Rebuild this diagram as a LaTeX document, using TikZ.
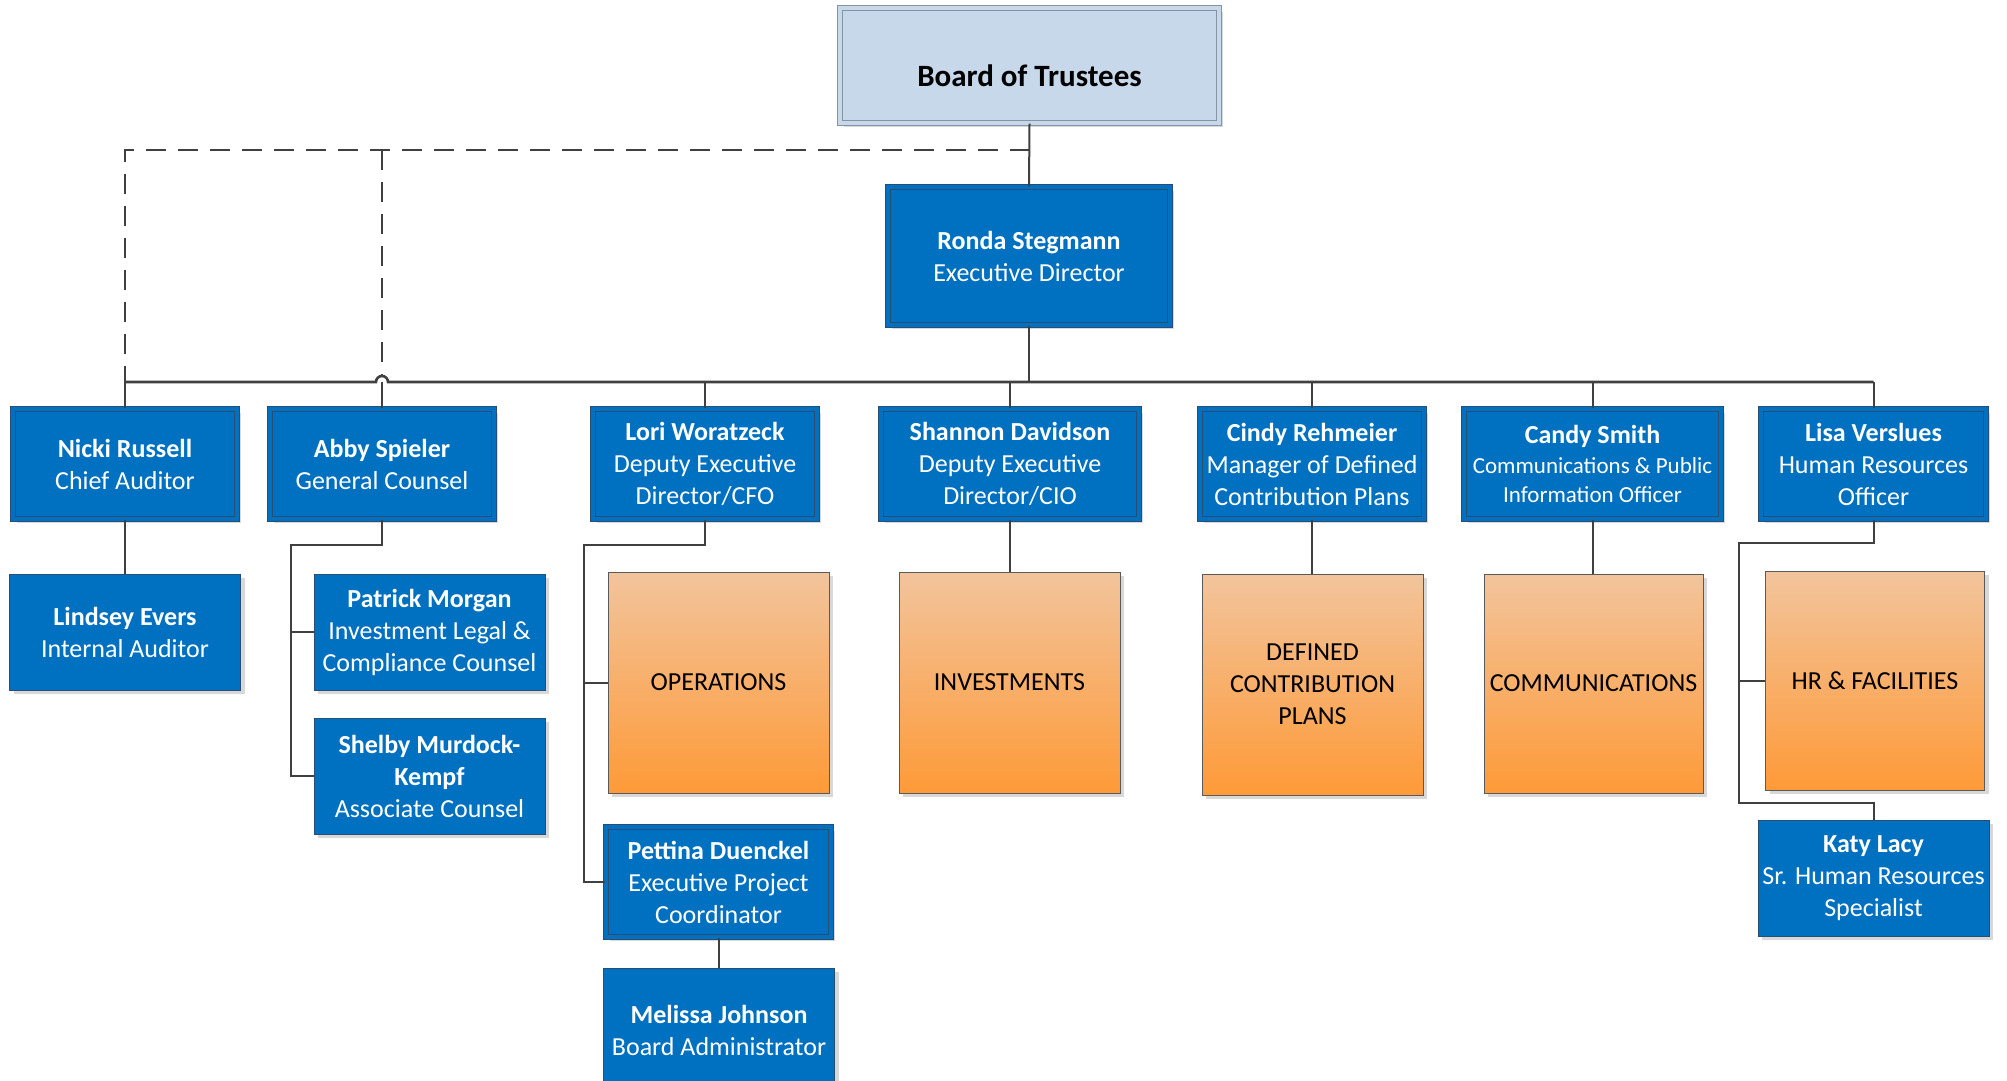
\documentclass[tikz,border=0pt]{standalone}
\usepackage{fontspec}
\setmainfont{Carlito}
\usepackage{tikz}
\usetikzlibrary{shadows,calc}
\definecolor{memberblue}{HTML}{0070C0}
\definecolor{memberline}{HTML}{2A4D74}
\definecolor{boardfill}{HTML}{C6D8EA}
\definecolor{boardline}{HTML}{8693A3}
\definecolor{depttop}{HTML}{F2C49C}
\definecolor{deptbottom}{HTML}{FE9A38}
\definecolor{deptline}{HTML}{5A5A5A}
\definecolor{linkgray}{HTML}{404040}
\tikzstyle{member}=[rectangle,draw=memberline,fill=memberblue,text=white,align=center,inner sep=0pt,
    minimum height=58pt,font=\fontsize{13}{16}\selectfont,
    drop shadow={shadow xshift=2pt,shadow yshift=-2pt,fill=black!30}]
\tikzstyle{lead member} = [member, line width=0.5pt, double=memberblue, double distance=1.8pt, minimum height=55.2pt]
\tikzstyle{board} = [lead member, draw=boardline, fill=boardfill, double=boardfill, text=black,
    font=\fontsize{15.5}{19}\bfseries, text height=21pt, text depth=0pt]
\tikzstyle{dept} = [rectangle,draw=deptline,top color=depttop,bottom color=deptbottom,text=black,align=center,
    inner sep=0pt,font=\fontsize{13}{16}\selectfont,
    drop shadow={shadow xshift=2pt,shadow yshift=-2pt,fill=black!30}]
\tikzstyle{connector} = [draw=linkgray,line width=1pt]
\tikzstyle{dashed connector} = [connector, dash pattern=on 10pt off 6pt]
\begin{document}
\begin{tikzpicture}[x=0.5pt,y=-0.5pt]
    \useasboundingbox (0,0) rectangle (2007,1081);
    % Board and the executive director
    \node[board, minimum width=189.7pt, minimum height=57.7pt] (board) at (1029.5,65.5) {Board of Trustees};
    \node[lead member, minimum width=141.2pt, minimum height=69.2pt] (ronda) at (1029,256)
        {\textbf{Ronda Stegmann}\\Executive Director};

    % First we draw the heads
    \foreach \pos/\name/\w/\txt in {{(125,464)/nicki/112.2pt/{\textbf{Nicki Russell}\\Chief Auditor}},
        {(382,464)/abby/112.2pt/{\textbf{Abby Spieler}\\General Counsel}},
        {(705,464)/lori/112.2pt/{\textbf{Lori Woratzeck}\\Deputy Executive\\Director/CFO}},
        {(1010,464)/shannon/129.2pt/{\textbf{Shannon Davidson}\\Deputy Executive\\Director/CIO}},
        {(1312,464)/cindy/112.2pt/{\textbf{Cindy Rehmeier}\\Manager of Defined\\Contribution Plans}},
        {(1873.5,464)/lisa/112.7pt/{\textbf{Lisa Verslues}\\Human Resources\\Officer}},
        {(718.5,882)/pettina/112.7pt/{\textbf{Pettina Duenckel}\\Executive Project\\Coordinator}}}
        \node[lead member, minimum width=\w] (\name) at \pos {\txt};
    \node[lead member, minimum width=128.7pt, font=\fontsize{11.5}{14.6}\selectfont] (candy) at (1592.5,464)
        {\fontsize{13}{16}\selectfont\textbf{Candy Smith}\\Communications \& Public\\Information Officer};

    % Then the staff
    \foreach \pos/\name/\h/\txt in {{(125,632)/lindsey/58pt/{\textbf{Lindsey Evers}\\Internal Auditor}},
        {(429.5,632)/patrick/58pt/{\textbf{Patrick Morgan}\\Investment Legal \&\\Compliance Counsel}},
        {(429.5,776)/shelby/58pt/{\textbf{Shelby Murdock-}\\\textbf{Kempf}\\Associate Counsel}},
        {(719,1030)/melissa/62pt/{\textbf{Melissa Johnson}\\Board Administrator}},
        {(1873.5,878)/katy/58pt/{\textbf{Katy Lacy}\\Sr. Human Resources\\Specialist}}}
        \node[member, minimum width=115.5pt, minimum height=\h] (\name) at \pos {\txt};

    % The departments
    \foreach \pos/\name/\s/\txt in {{(718.5,682.5)/operations/110.5pt/OPERATIONS},
        {(1009.5,682.5)/investments/110.5pt/INVESTMENTS},
        {(1312.5,684.5)/contribution/110.5pt/{DEFINED\\CONTRIBUTION\\PLANS}},
        {(1593.5,683.5)/communications/109.5pt/COMMUNICATIONS},
        {(1875,680.5)/hr/109.5pt/{HR \& FACILITIES}}}
        \node[dept, minimum width=\s, minimum height=\s] (\name) at \pos {\txt};

    % Connect the director with the heads
    \coordinate (bus) at (0,382);
    \coordinate (dashrow) at (0,150);
    \path[connector] (board.south) -- (ronda.north);
    \path[connector, line width=1.4pt] (ronda.south) -- (ronda.south |- bus);
    \path[connector, line width=1.3pt] (nicki.north |- bus) -- ($(abby.north |- bus)+(-6,0)$)
        arc[start angle=180, end angle=0, radius=3pt] -- (lisa.north |- bus);
    \foreach \name in {nicki,abby,lori,shannon,cindy,candy,lisa}
        \path[connector] (\name.north |- bus) -- (\name.north);

    % Dashed lines from the board
    \path[dashed connector] (board.south |- dashrow) -| (nicki.north |- bus);
    \path[dashed connector] (abby.north |- dashrow) -- ($(abby.north |- bus)+(0,-6)$);

    % Connect the heads with their staff
    \path[connector] (nicki.south) -- (lindsey.north);
    \coordinate (abbyspine) at (291,545);
    \path[connector] (abby.south) |- (abbyspine) |- (shelby.west);
    \path[connector] (abbyspine |- patrick.west) -- (patrick.west);
    \coordinate (lorispine) at (584,545);
    \path[connector] (lori.south) |- (lorispine) |- (pettina.west);
    \path[connector] (lorispine |- operations.west) -- (operations.west);
    \path[connector] (pettina.south) -- (pettina.south |- melissa.north);
    \foreach \source/\dest in {shannon/investments,cindy/contribution,candy/communications}
        \path[connector] (\source.south) -- (\source.south |- \dest.north);
    \coordinate (lisaspine) at (1739,543);
    \coordinate (lisaloop) at (1739,803);
    \path[connector] (lisa.south) |- (lisaspine) -- (lisaloop) -| (katy.north);
    \path[connector] (lisaspine |- hr.west) -- (hr.west);
\end{tikzpicture}
\end{document}
